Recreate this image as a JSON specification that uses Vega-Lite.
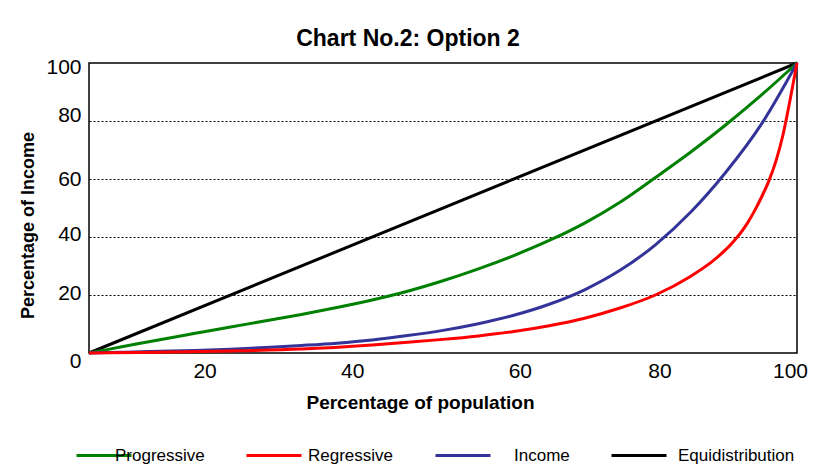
{
  "$schema": "https://vega.github.io/schema/vega-lite/v6.json",
  "width": 708,
  "height": 290,
  "autosize": {"type": "none"},
  "padding": {"left": 89, "top": 63, "right": 23, "bottom": 119},
  "background": "white",
  "title": {
    "text": "Chart No.2: Option 2",
    "font": "Liberation Sans",
    "fontSize": 23,
    "fontWeight": "bold",
    "color": "#000000",
    "anchor": "middle",
    "frame": "group",
    "dx": -35,
    "offset": -13,
    "baseline": "alphabetic"
  },
  "data": {
    "values": [
      {"series": "Equidistribution", "population": 0, "income": 0},
      {"series": "Equidistribution", "population": 100, "income": 100},
      {"series": "Progressive", "population": 0, "income": 0},
      {"series": "Progressive", "population": 5, "income": 2.3},
      {"series": "Progressive", "population": 10, "income": 4.6},
      {"series": "Progressive", "population": 15, "income": 6.8},
      {"series": "Progressive", "population": 20, "income": 9},
      {"series": "Progressive", "population": 25, "income": 11.1},
      {"series": "Progressive", "population": 30, "income": 13.3},
      {"series": "Progressive", "population": 35, "income": 15.7},
      {"series": "Progressive", "population": 40, "income": 18.3},
      {"series": "Progressive", "population": 45, "income": 21.3},
      {"series": "Progressive", "population": 50, "income": 24.9},
      {"series": "Progressive", "population": 55, "income": 29},
      {"series": "Progressive", "population": 60, "income": 33.6},
      {"series": "Progressive", "population": 65, "income": 38.8},
      {"series": "Progressive", "population": 70, "income": 44.8},
      {"series": "Progressive", "population": 75, "income": 52},
      {"series": "Progressive", "population": 80, "income": 60.5},
      {"series": "Progressive", "population": 85, "income": 69.3},
      {"series": "Progressive", "population": 90, "income": 78.8},
      {"series": "Progressive", "population": 95, "income": 89},
      {"series": "Progressive", "population": 100, "income": 100},
      {"series": "Income", "population": 0, "income": 0},
      {"series": "Income", "population": 5, "income": 0.3},
      {"series": "Income", "population": 10, "income": 0.6},
      {"series": "Income", "population": 15, "income": 0.9},
      {"series": "Income", "population": 20, "income": 1.3},
      {"series": "Income", "population": 25, "income": 1.9},
      {"series": "Income", "population": 30, "income": 2.6},
      {"series": "Income", "population": 35, "income": 3.4},
      {"series": "Income", "population": 40, "income": 4.5},
      {"series": "Income", "population": 45, "income": 6},
      {"series": "Income", "population": 50, "income": 7.8},
      {"series": "Income", "population": 55, "income": 10.1},
      {"series": "Income", "population": 60, "income": 13},
      {"series": "Income", "population": 65, "income": 16.8},
      {"series": "Income", "population": 70, "income": 21.8},
      {"series": "Income", "population": 75, "income": 28.5},
      {"series": "Income", "population": 80, "income": 37.3},
      {"series": "Income", "population": 85, "income": 48.6},
      {"series": "Income", "population": 90, "income": 62.5},
      {"series": "Income", "population": 95, "income": 79},
      {"series": "Income", "population": 100, "income": 100},
      {"series": "Regressive", "population": 0, "income": 0},
      {"series": "Regressive", "population": 10, "income": 0.3},
      {"series": "Regressive", "population": 20, "income": 0.7},
      {"series": "Regressive", "population": 30, "income": 1.4},
      {"series": "Regressive", "population": 40, "income": 2.8},
      {"series": "Regressive", "population": 45, "income": 3.7},
      {"series": "Regressive", "population": 50, "income": 4.7},
      {"series": "Regressive", "population": 55, "income": 5.9},
      {"series": "Regressive", "population": 60, "income": 7.4},
      {"series": "Regressive", "population": 65, "income": 9.4},
      {"series": "Regressive", "population": 70, "income": 12},
      {"series": "Regressive", "population": 75, "income": 15.5},
      {"series": "Regressive", "population": 80, "income": 20},
      {"series": "Regressive", "population": 85, "income": 26.5},
      {"series": "Regressive", "population": 88, "income": 31.5},
      {"series": "Regressive", "population": 90, "income": 35.8},
      {"series": "Regressive", "population": 91, "income": 38.4},
      {"series": "Regressive", "population": 92, "income": 41.3},
      {"series": "Regressive", "population": 93, "income": 44.8},
      {"series": "Regressive", "population": 94, "income": 49},
      {"series": "Regressive", "population": 95, "income": 53.8},
      {"series": "Regressive", "population": 96, "income": 59.2},
      {"series": "Regressive", "population": 97, "income": 66},
      {"series": "Regressive", "population": 98, "income": 75},
      {"series": "Regressive", "population": 99, "income": 87},
      {"series": "Regressive", "population": 100, "income": 100}
    ]
  },
  "mark": {"type": "line", "strokeWidth": 3, "interpolate": "monotone"},
  "encoding": {
    "x": {
      "field": "population",
      "type": "quantitative",
      "scale": {"domain": [0, 100], "nice": false, "zero": false},
      "axis": {
        "values": [20, 40, 60, 80, 100],
        "title": "Percentage of population",
        "titleFont": "Liberation Sans",
        "titleFontSize": 19,
        "titleFontWeight": "bold",
        "titleColor": "#000000",
        "titleX": 331,
        "titleY": 55,
        "titleAlign": "center",
        "titleBaseline": "alphabetic",
        "labelFont": "Liberation Sans",
        "labelFontSize": 21,
        "labelColor": "#000000",
        "labelPadding": 7,
        "labelBaseline": "top",
        "labelFlush": false,
        "labelOverlap": false,
        "labelOffset": {"expr": "datum.value == 20 ? -26 : datum.value == 40 ? -20 : datum.value == 60 ? 6 : datum.value == 80 ? 4 : -7"},
        "ticks": false,
        "tickSize": 0,
        "domain": false,
        "grid": false
      }
    },
    "y": {
      "field": "income",
      "type": "quantitative",
      "scale": {"domain": [0, 100], "nice": false, "zero": false},
      "axis": {
        "values": [0, 20, 40, 60, 80, 100],
        "title": "Percentage of Income",
        "titleFont": "Liberation Sans",
        "titleFontSize": 18,
        "titleFontWeight": "bold",
        "titleColor": "#000000",
        "titleX": -61,
        "titleY": 162,
        "titleAngle": -90,
        "titleAlign": "center",
        "titleBaseline": "middle",
        "labelFont": "Liberation Sans",
        "labelFontSize": 21,
        "labelColor": "#000000",
        "labelPadding": 8,
        "labelBaseline": "middle",
        "labelFlush": false,
        "labelOverlap": false,
        "labelOffset": {"expr": "datum.value == 0 ? 8 : datum.value == 20 ? -1.5 : datum.value == 40 ? -3 : datum.value == 60 ? 0.5 : datum.value == 80 ? -5.5 : 4"},
        "ticks": false,
        "tickSize": 0,
        "domain": false,
        "grid": true,
        "gridColor": "#000000",
        "gridDash": [2, 2],
        "gridWidth": 1,
        "gridOpacity": {"condition": {"test": "datum.value == 0 || datum.value == 100", "value": 0}, "value": 1}
      }
    },
    "color": {
      "field": "series",
      "type": "nominal",
      "scale": {
        "domain": ["Progressive", "Regressive", "Income", "Equidistribution"],
        "range": ["#008000", "#FF0000", "#333399", "#000000"]
      },
      "legend": {
        "orient": "none",
        "legendX": -14,
        "legendY": 363.5,
        "direction": "horizontal",
        "columns": 4,
        "title": null,
        "symbolType": "stroke",
        "symbolSize": 3025,
        "symbolStrokeWidth": 3,
        "labelFont": "Liberation Sans",
        "labelFontSize": 17,
        "labelColor": "#000000",
        "labelOffset": 6,
        "labelLimit": 300,
        "columnPadding": 35,
        "gridAlign": "none",
        "padding": 0,
        "encode": {
          "labels": {
            "update": {
              "dx": {"signal": "datum.label == 'Progressive' ? -24 : datum.label == 'Regressive' ? -1 : datum.label == 'Income' ? 16 : 4"}
            }
          }
        }
      }
    }
  },
  "config": {
    "view": {"stroke": "#000000", "strokeWidth": 1.5},
    "font": "Liberation Sans"
  }
}
